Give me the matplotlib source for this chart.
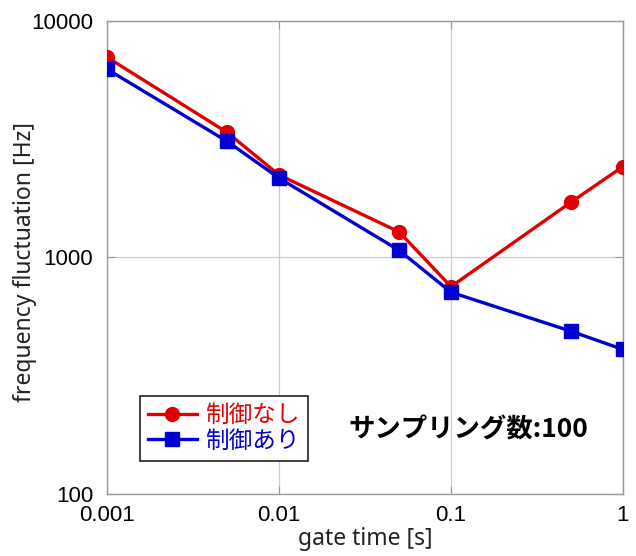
import matplotlib
matplotlib.use("Agg")
import matplotlib.pyplot as plt
from matplotlib.ticker import FixedLocator, FixedFormatter, NullLocator

gate_time = [0.001, 0.005, 0.01, 0.05, 0.1, 0.5, 1]
no_control = [7010, 3370, 2230, 1280, 752, 1713, 2420]
with_control = [6240, 3090, 2163, 1070, 712, 487, 408]
x_ticks = [0.001, 0.01, 0.1, 1]
x_tick_labels = ["0.001", "0.01", "0.1", "1"]
y_ticks = [100, 1000, 10000]
y_tick_labels = ["100", "1000", "10000"]

plt.rcParams['font.family'] = ['Liberation Sans', 'Noto Sans CJK JP', 'DejaVu Sans']

fig = plt.figure(figsize=(6.36, 5.56), dpi=100)
ax = fig.add_axes([107/636, 1 - 494/556, (623-107)/636, (494-20.7)/556])

ax.plot(gate_time, no_control, color='#e00000', lw=2.4, marker='o', ms=10,
        label='制御なし', zorder=3)
ax.plot(gate_time, with_control, color='#0000d0', lw=2.4, marker='s', ms=10,
        label='制御あり', zorder=4)

ax.set_xscale('log')
ax.set_yscale('log')
ax.set_xlim(0.001, 1)
ax.set_ylim(100, 10000)
ax.xaxis.set_major_locator(FixedLocator(x_ticks))
ax.xaxis.set_major_formatter(FixedFormatter(x_tick_labels))
ax.yaxis.set_major_locator(FixedLocator(y_ticks))
ax.yaxis.set_major_formatter(FixedFormatter(y_tick_labels))
ax.xaxis.set_minor_locator(NullLocator())
ax.yaxis.set_minor_locator(NullLocator())
ax.grid(True, color='#cccccc', lw=0.9)
ax.set_axisbelow(True)
for s in ax.spines.values():
    s.set_color('#999999')
    s.set_linewidth(1.0)
ax.tick_params(axis='both', which='major', direction='in', length=6, color='#999999',
               labelsize=16, top=True, right=True)
ax.tick_params(axis='y', pad=10)
ax.tick_params(axis='x', pad=8)

ax.set_xlabel('gate time [s]', fontsize=16.5, color='#222222',
              family=['Noto Sans', 'DejaVu Sans'])
ax.set_ylabel('frequency fluctuation [Hz]', fontsize=16.5, color='#222222',
              family=['Noto Sans', 'DejaVu Sans'])
ax.xaxis.set_label_coords(0.5, (494 - 527) / 473)
ax.yaxis.set_label_coords((37 - 107) / 516, 0.49)

leg = ax.legend(loc='lower left', bbox_to_anchor=(33/516, 33/473), borderaxespad=0,
                frameon=True, fancybox=False, edgecolor='#222222', framealpha=1,
                borderpad=0.35, handlelength=2.05, handletextpad=0.35, labelspacing=0.12,
                prop={'family': ['Noto Sans CJK JP'], 'size': 17})
leg.get_frame().set_linewidth(1.2)
for txt, c in zip(leg.get_texts(), ['#e00000', '#0000d0']):
    txt.set_color(c)

ax.text(0.701, 0.135, 'サンプリング数:100', transform=ax.transAxes, fontsize=19,
        fontweight='bold', ha='center', va='center',
        family=['Noto Sans CJK JP', 'DejaVu Sans'])

fig.savefig('out.png', dpi=100)
